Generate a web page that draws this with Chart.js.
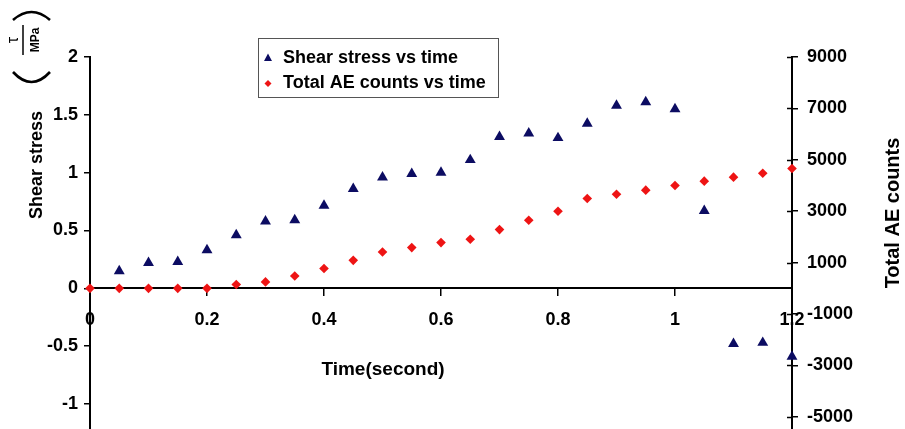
<!DOCTYPE html>
<html>
<head>
<meta charset="utf-8">
<script src="https://cdn.jsdelivr.net/npm/chart.js@4.4.0/dist/chart.umd.min.js"></script>
<style>
  html, body { margin: 0; padding: 0; background: #ffffff; overflow: hidden; }
  #wrap { width: 905px; height: 429px; }
</style>
</head>
<body>
<div id="wrap"><canvas id="c" width="905" height="429"></canvas></div>
<script>
// ---- data ----
const timeShear = [0.05,0.1,0.15,0.2,0.25,0.3,0.35,0.4,0.45,0.5,0.55,0.6,0.65,0.7,0.75,0.8,0.85,0.9,0.95,1.0,1.05,1.1,1.15,1.2];
const shearStress = [0.15,0.22,0.23,0.33,0.46,0.58,0.59,0.715,0.86,0.96,0.99,1.00,1.11,1.31,1.34,1.30,1.425,1.58,1.61,1.55,0.67,-0.48,-0.47,-0.59];
const timeAE = [0,0.05,0.1,0.15,0.2,0.25,0.3,0.35,0.4,0.45,0.5,0.55,0.6,0.65,0.7,0.75,0.8,0.85,0.9,0.95,1.0,1.05,1.1,1.15,1.2];
const aeCounts = [0,0,0,0,0,150,250,480,770,1090,1415,1585,1780,1910,2285,2650,3000,3495,3660,3820,4000,4170,4325,4480,4660];

const xTickValues = [0,0.2,0.4,0.6,0.8,1,1.2];
const xTickLabels = ['0','0.2','0.4','0.6','0.8','1','1.2'];
const leftTickValues = [-1,-0.5,0,0.5,1,1.5,2];
const rightTickValues = [-5000,-3000,-1000,1000,3000,5000,7000,9000];

const seriesNames = ['Shear stress vs time','Total AE counts vs time'];
const xTitle = 'Time(second)';
const leftTitle = 'Shear stress';
const rightTitle = 'Total AE counts';

const NAVY = '#0c0c62';
const RED = '#ee1414';
const FONT = "'Liberation Sans', Arial, Helvetica, sans-serif";

Chart.defaults.font.family = FONT;
Chart.defaults.color = '#000';

function fixWidth(w) {
  return function(scale) { scale.width = w; scale.paddingTop = 0; scale.paddingBottom = 0; };
}

// let the plot area run down to the bottom edge of the canvas (cut-off look of the original)
const stretchPlugin = {
  id: 'stretch',
  afterLayout(chart) {
    const ca = chart.chartArea;
    const d = chart.height - ca.bottom;
    if (d > 0) {
      ca.bottom += d;
      ca.height += d;
      ['y', 'y1'].forEach(id => {
        const s = chart.scales[id];
        s.bottom += d;
        s.height += d;
        s.configure();
      });
    }
  }
};

const decorPlugin = {
  id: 'decor',
  afterDraw(chart) {
    const ctx = chart.ctx;
    const r = chart.scales.y1;
    ctx.save();
    // inner halves of right-axis tick marks
    ctx.strokeStyle = '#000';
    ctx.lineWidth = 1.5;
    r.ticks.forEach(t => {
      const py = Math.round(r.getPixelForValue(t.value)) + 0.5;
      ctx.beginPath();
      ctx.moveTo(r.left - 5, py);
      ctx.lineTo(r.left, py);
      ctx.stroke();
    });

    // x title
    ctx.fillStyle = '#000';
    ctx.font = 'bold 19px ' + FONT;
    ctx.textAlign = 'center';
    ctx.textBaseline = 'middle';
    ctx.fillText(xTitle, 383, 370);

    // right title
    ctx.save();
    ctx.translate(893, 213);
    ctx.rotate(-Math.PI / 2);
    ctx.font = 'bold 20px ' + FONT;
    ctx.fillText(rightTitle, 0, 0);
    ctx.restore();

    // left title
    ctx.save();
    ctx.translate(37, 165);
    ctx.rotate(-Math.PI / 2);
    ctx.font = 'bold 18px ' + FONT;
    ctx.fillText(leftTitle, 0, 0);
    ctx.restore();

    // fraction tau / MPa
    ctx.save();
    ctx.translate(24, 40);
    ctx.rotate(-Math.PI / 2);
    ctx.font = '16px ' + FONT;
    ctx.fillText('\u03C4', 0, -10);
    ctx.font = 'bold 12px ' + FONT;
    ctx.fillText('MPa', 0, 12);
    ctx.restore();
    ctx.lineWidth = 1.5;
    ctx.beginPath();
    ctx.moveTo(23, 25); ctx.lineTo(23, 55);
    ctx.stroke();
    // big parentheses
    ctx.lineWidth = 2.6;
    ctx.beginPath();
    ctx.moveTo(13, 20); ctx.quadraticCurveTo(31.5, 4, 50, 20);
    ctx.stroke();
    ctx.beginPath();
    ctx.moveTo(13, 72); ctx.quadraticCurveTo(31.5, 92, 50, 72);
    ctx.stroke();

    // legend
    ctx.lineWidth = 1;
    ctx.strokeStyle = '#555';
    ctx.strokeRect(258.5, 38.5, 240, 59);
    ctx.fillStyle = NAVY;
    ctx.beginPath();
    ctx.moveTo(268, 53.5); ctx.lineTo(272, 61); ctx.lineTo(264, 61);
    ctx.closePath(); ctx.fill();
    ctx.fillStyle = RED;
    ctx.beginPath();
    ctx.moveTo(268, 80); ctx.lineTo(271.5, 83.5); ctx.lineTo(268, 87); ctx.lineTo(264.5, 83.5);
    ctx.closePath(); ctx.fill();
    ctx.fillStyle = '#000';
    ctx.font = 'bold 18px ' + FONT;
    ctx.textAlign = 'left';
    ctx.fillText(seriesNames[0], 283, 58);
    ctx.fillText(seriesNames[1], 283, 83);
    ctx.restore();
  }
};

new Chart(document.getElementById('c'), {
  type: 'scatter',
  data: {
    datasets: [
      {
        label: seriesNames[1],
        data: timeAE.map((t, i) => ({ x: t, y: aeCounts[i] })),
        yAxisID: 'y1',
        pointStyle: 'rectRot',
        pointRadius: 4.8,
        backgroundColor: RED,
        borderColor: RED,
        borderWidth: 0,
        clip: false
      },
      {
        label: seriesNames[0],
        data: timeShear.map((t, i) => ({ x: t, y: shearStress[i] })),
        yAxisID: 'y',
        pointStyle: 'triangle',
        pointRadius: 6.3,
        backgroundColor: NAVY,
        borderColor: NAVY,
        borderWidth: 0,
        clip: false
      }
    ]
  },
  options: {
    responsive: false,
    animation: false,
    devicePixelRatio: 1,
    layout: { padding: { top: 57, bottom: 0, left: 0, right: 0 } },
    plugins: { legend: { display: false }, tooltip: { enabled: false } },
    scales: {
      x: {
        type: 'linear',
        position: { y: 0 },
        min: 0, max: 1.2,
        afterBuildTicks: s => { s.ticks = xTickValues.map(v => ({ value: v })); },
        afterFit: s => { s.height = 0; s.paddingLeft = 0; s.paddingRight = 0; },
        ticks: {
          callback: (v, i) => xTickLabels[i],
          font: { size: 18, weight: 'bold' },
          padding: 14,
          maxRotation: 0,
          autoSkip: false
        },
        grid: { drawOnChartArea: false, drawTicks: true, tickLength: 7, color: '#000', lineWidth: 1.5 },
        border: { color: '#000', width: 2 }
      },
      y: {
        type: 'linear',
        position: 'left',
        min: -1.216, max: 2,
        afterBuildTicks: s => { s.ticks = leftTickValues.map(v => ({ value: v })); },
        afterFit: fixWidth(90),
        ticks: {
          callback: v => String(v),
          font: { size: 18, weight: 'bold' },
          padding: 6
        },
        grid: { drawOnChartArea: false, drawTicks: true, tickLength: 6, color: '#000', lineWidth: 1.5 },
        border: { color: '#000', width: 2 }
      },
      y1: {
        type: 'linear',
        position: 'right',
        min: -5472, max: 9000,
        afterBuildTicks: s => { s.ticks = rightTickValues.map(v => ({ value: v })); },
        afterFit: fixWidth(113),
        ticks: {
          callback: v => String(v),
          font: { size: 18, weight: 'bold' },
          padding: 9
        },
        grid: { drawOnChartArea: false, drawTicks: true, tickLength: 6, color: '#000', lineWidth: 1.5 },
        border: { color: '#000', width: 2 }
      }
    }
  },
  plugins: [stretchPlugin, decorPlugin]
});
</script>
</body>
</html>
